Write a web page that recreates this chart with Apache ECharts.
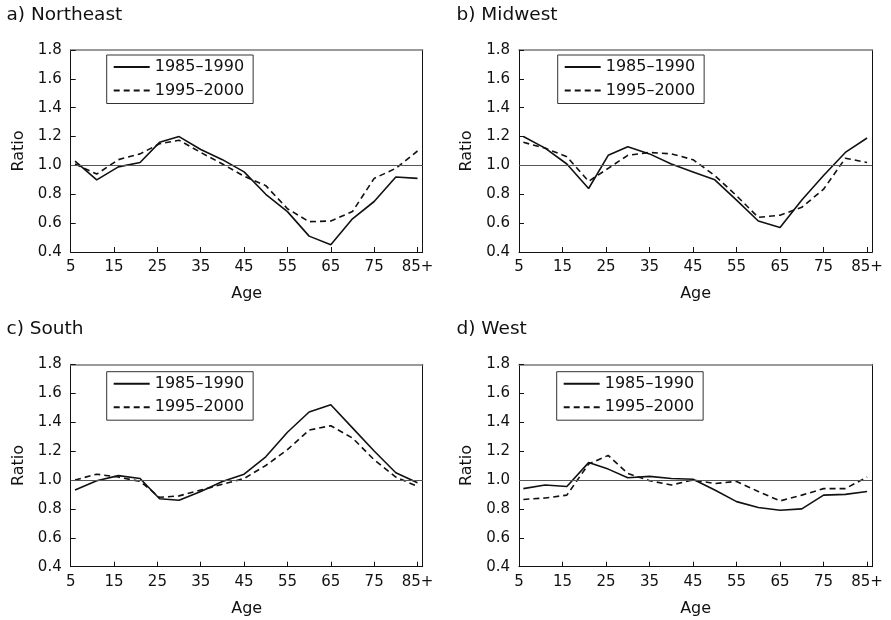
<!DOCTYPE html>
<html>
<head>
<meta charset="utf-8">
<script src="https://cdn.jsdelivr.net/npm/echarts@6/dist/echarts.min.js"></script>
<style>
html,body{margin:0;padding:0;background:#fff;}
#chart{width:891px;height:620px;}
</style>
</head>
<body>
<div id="chart"></div>
<script>
// ---- data ----
const ages = [6, 11, 16, 21, 25.5, 30, 35, 40, 45, 50, 55, 60, 65, 70, 75, 80, 85];
const seriesNames = ['1985–1990', '1995–2000'];
const panelTitles = ['a) Northeast', 'b) Midwest', 'c) South', 'd) West'];
const xTickValues = [5, 15, 25, 35, 45, 55, 65, 75, 85];
const xTickLabels = ['5', '15', '25', '35', '45', '55', '65', '75', '85+'];
const refValue = 1.0;

const northeast1985 = [1.03, 0.90, 0.99, 1.02, 1.16, 1.20, 1.11, 1.04, 0.955, 0.80, 0.68, 0.51, 0.45, 0.63, 0.75, 0.92, 0.91];
const northeast1995 = [1.01, 0.94, 1.04, 1.08, 1.15, 1.175, 1.09, 1.01, 0.925, 0.86, 0.70, 0.61, 0.615, 0.68, 0.91, 0.98, 1.10];
const midwest1985   = [1.20, 1.12, 1.01, 0.84, 1.07, 1.13, 1.08, 1.01, 0.955, 0.90, 0.76, 0.615, 0.57, 0.76, 0.93, 1.09, 1.19];
const midwest1995   = [1.16, 1.12, 1.06, 0.89, 0.98, 1.07, 1.09, 1.08, 1.04, 0.93, 0.79, 0.64, 0.655, 0.71, 0.835, 1.05, 1.02];
const south1985     = [0.93, 0.995, 1.03, 1.01, 0.87, 0.86, 0.92, 0.99, 1.04, 1.16, 1.33, 1.47, 1.52, 1.36, 1.20, 1.05, 0.98];
const south1995     = [1.00, 1.04, 1.02, 0.99, 0.88, 0.89, 0.93, 0.97, 1.01, 1.10, 1.21, 1.345, 1.375, 1.29, 1.14, 1.02, 0.955];
const west1985      = [0.94, 0.965, 0.955, 1.12, 1.075, 1.015, 1.025, 1.01, 1.005, 0.93, 0.85, 0.81, 0.79, 0.80, 0.895, 0.90, 0.92];
const west1995      = [0.865, 0.875, 0.895, 1.11, 1.17, 1.045, 0.995, 0.965, 1.00, 0.975, 0.99, 0.92, 0.855, 0.895, 0.94, 0.94, 1.02];

const panelData = [
  [northeast1985, northeast1995],
  [midwest1985, midwest1995],
  [south1985, south1995],
  [west1985, west1995]
];

// ---- layout (pixels) ----
const layout = [
  {grid: {left: 70.7, top: 50, width: 352, height: 202}, title: {left: 6.5, top: 6}, legend: {left: 106.7, top: 55}},
  {grid: {left: 519, top: 50, width: 353.3, height: 202}, title: {left: 456.5, top: 6}, legend: {left: 557.7, top: 55}},
  {grid: {left: 70.7, top: 364.3, width: 352, height: 202.4}, title: {left: 6.5, top: 320}, legend: {left: 106.7, top: 371.7}},
  {grid: {left: 519, top: 364.3, width: 353.3, height: 202.4}, title: {left: 456.5, top: 320}, legend: {left: 556.7, top: 371.7}}
];

const FONT = 'DejaVu Sans';
const INK = '#111';
const dashes = ['solid', [6, 4]];

const option = {
  animation: false,
  backgroundColor: '#fff',
  title: [], legend: [], grid: [], xAxis: [], yAxis: [], series: []
};

panelData.forEach((pair, i) => {
  const L = layout[i];
  option.grid.push(Object.assign({containLabel: false, show: false}, L.grid));
  option.title.push({
    text: panelTitles[i], left: L.title.left, top: L.title.top, padding: 0,
    textStyle: {fontFamily: FONT, fontSize: 18.5, fontWeight: 'normal', color: INK}
  });
  option.legend.push({
    data: seriesNames, left: L.legend.left, top: L.legend.top, orient: 'vertical',
    itemWidth: 36, itemHeight: 14, itemGap: 7.5, selectedMode: false,
    itemStyle: {opacity: 0},
    borderColor: '#333', borderWidth: 1, padding: [4, 9, 5, 6],
    textStyle: {fontFamily: FONT, fontSize: 16, color: INK}
  });
  // bottom x axis
  option.xAxis.push({
    type: 'value', gridIndex: i, position: 'bottom', min: 5, max: 86.2,
    name: 'Age', nameLocation: 'middle', nameGap: 34,
    nameTextStyle: {fontFamily: FONT, fontSize: 16, color: INK},
    axisLine: {show: true, onZero: false, lineStyle: {color: INK, width: 1}},
    axisTick: {show: true, inside: true, length: 5, customValues: xTickValues, lineStyle: {color: INK, width: 1}},
    axisLabel: {customValues: xTickValues, margin: 8, fontFamily: FONT, fontSize: 15, color: INK,
      formatter: v => xTickLabels[xTickValues.indexOf(v)]},
    splitLine: {show: false}
  });
  // top frame
  option.xAxis.push({
    type: 'value', gridIndex: i, position: 'top', min: 5, max: 86.2,
    axisLine: {show: true, onZero: false, lineStyle: {color: '#7a7a7a', width: 1.5}},
    axisTick: {show: false}, axisLabel: {show: false}, splitLine: {show: false}
  });
  // left y axis
  option.yAxis.push({
    type: 'value', gridIndex: i, position: 'left', min: 0.4, max: 1.8, interval: 0.2,
    name: 'Ratio', nameLocation: 'middle', nameGap: 44,
    nameTextStyle: {fontFamily: FONT, fontSize: 16, color: INK},
    axisLine: {show: true, onZero: false, lineStyle: {color: INK, width: 1}},
    axisTick: {show: true, inside: true, length: 5, lineStyle: {color: INK, width: 1}},
    axisLabel: {margin: 9, fontFamily: FONT, fontSize: 15, color: INK, formatter: v => v.toFixed(1)},
    splitLine: {show: false}
  });
  // right frame
  option.yAxis.push({
    type: 'value', gridIndex: i, position: 'right', min: 0.4, max: 1.8,
    axisLine: {show: true, onZero: false, lineStyle: {color: INK, width: 1}},
    axisTick: {show: false}, axisLabel: {show: false}, splitLine: {show: false}
  });
  pair.forEach((vals, k) => {
    const s = {
      name: seriesNames[k], type: 'line', xAxisIndex: 2 * i, yAxisIndex: 2 * i,
      data: ages.map((a, j) => [a, vals[j]]),
      symbol: 'none', showSymbol: false, smooth: false, silent: true,
      lineStyle: {color: INK, width: 1.6, type: dashes[k]},
      itemStyle: {color: INK},
      z: 3
    };
    if (k === 0) {
      s.markLine = {
        silent: true, symbol: ['none', 'none'], label: {show: false},
        lineStyle: {color: '#555', width: 1, type: 'solid'},
        emphasis: {disabled: true},
        data: [{yAxis: refValue}]
      };
    }
    option.series.push(s);
  });
});

const chart = echarts.init(document.getElementById('chart'), null, {renderer: 'canvas'});
chart.setOption(option);
</script>
</body>
</html>
